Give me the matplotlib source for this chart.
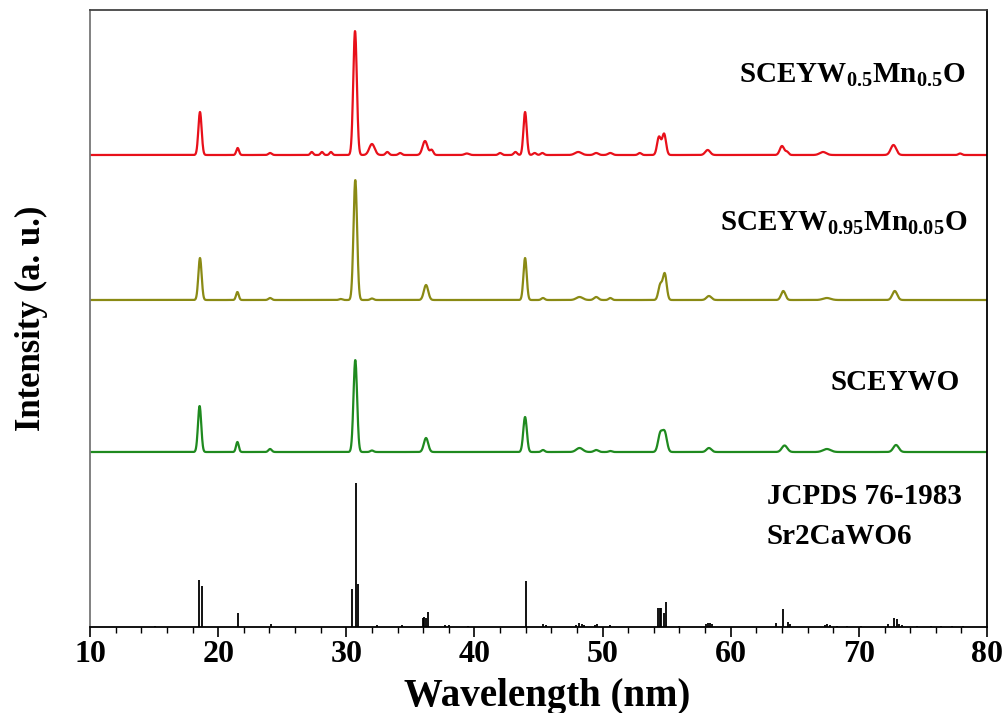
import matplotlib
matplotlib.use("Agg")
import matplotlib.pyplot as plt
import numpy as np

plt.rcParams['font.family'] = ['Liberation Serif', 'DejaVu Serif']
plt.rcParams['font.weight'] = 'bold'
plt.rcParams['mathtext.fontset'] = 'custom'
plt.rcParams['mathtext.rm'] = 'Liberation Serif:bold'
plt.rcParams['mathtext.bf'] = 'Liberation Serif:bold'

# peak lists: position (2theta), height, fwhm
# SCEYWO (green)
pos_sceywo = [18.55, 21.5, 24.05, 30.7, 32.0, 36.22, 43.95, 45.35, 48.2, 49.5, 50.6,
              54.5, 54.85, 58.3, 64.2, 67.5, 72.9]
hgt_sceywo = [46, 10, 3, 92, 1.5, 14, 35, 2, 4, 2, 1, 18, 19, 4, 6.5, 3, 7]
fw_sceywo = [0.3, 0.25, 0.3, 0.33, 0.3, 0.4, 0.33, 0.3, 0.6, 0.4, 0.3, 0.4, 0.4,
             0.45, 0.5, 0.7, 0.5]

# SCEYW0.95Mn0.05O (olive)
pos_mn005 = [18.58, 21.5, 24.05, 29.56, 30.7, 32.0, 36.22, 43.95, 45.35, 48.2, 49.5,
             50.6, 54.5, 54.85, 58.3, 64.1, 67.5, 72.8]
hgt_mn005 = [42, 8, 2, 1, 120, 1.5, 15, 42, 2, 3, 3, 2, 15, 26, 4, 9, 2, 9]
fw_mn005 = [0.3, 0.25, 0.3, 0.3, 0.33, 0.3, 0.4, 0.3, 0.3, 0.6, 0.4, 0.3, 0.35,
            0.35, 0.45, 0.4, 0.7, 0.45]

# SCEYW0.5Mn0.5O (red)
pos_mn05 = [18.58, 21.52, 24.05, 27.3, 28.1, 28.8, 30.68, 32.0, 33.2, 34.2, 36.14,
            36.66, 39.4, 42.0, 43.2, 43.95, 44.7, 45.3, 48.1, 49.5, 50.6, 52.9, 54.4,
            54.8, 58.2, 64.0, 64.4, 67.2, 72.7, 77.9]
hgt_mn05 = [43, 7, 2, 3, 3, 3, 124, 11, 3, 2, 14, 5, 1.5, 2, 3, 43, 2, 2, 3, 2, 2, 2,
            18, 21, 5, 9, 3, 3, 10, 1.5]
fw_mn05 = [0.3, 0.25, 0.3, 0.25, 0.25, 0.25, 0.33, 0.5, 0.3, 0.3, 0.45, 0.3, 0.4,
           0.3, 0.3, 0.3, 0.3, 0.3, 0.6, 0.4, 0.4, 0.3, 0.35, 0.35, 0.45, 0.4, 0.3,
           0.6, 0.5, 0.3]

# vertical offsets of the stacked patterns
offsets = [175, 327, 472]

# JCPDS 76-1983 reference lines
jcpds_pos = [15.07, 18.5, 18.71, 21.55, 24.13, 30.47, 30.73, 30.94, 32.42, 34.32,
             36.0, 36.1, 36.2, 36.35, 37.7, 38.04, 39.47, 44.0, 45.37, 45.62, 47.9,
             48.12, 48.36, 48.55, 49.41, 49.59, 50.58, 54.35, 54.45, 54.55, 54.82,
             54.95, 55.99, 58.1, 58.25, 58.4, 58.5, 63.53, 64.05, 64.5, 64.63, 67.36,
             67.54, 67.75, 68.3, 69.1, 70.2, 72.3, 72.74, 72.95, 73.16, 73.34, 74.5,
             75.6, 76.4, 77.3, 78.1]
jcpds_int = [1, 47, 41, 14, 3, 38, 144, 43, 2, 2, 9, 10, 9, 15, 2, 2, 1, 46, 3, 2, 2,
             4, 3, 2, 2, 3, 2, 19, 19, 19, 14, 25, 1, 3, 4, 4, 3, 4, 18, 5, 3, 2, 3, 2,
             1, 1, 1, 3, 9, 8, 3, 2, 1, 1, 1, 1, 1]

colors = ['#1f8a1f', '#8a8a14', '#e8101a']
labels = ['SCEYWO', r'SCEYW$_{0.95}$Mn$_{0.05}$O', r'SCEYW$_{0.5}$Mn$_{0.5}$O']


def pattern(x, pos, hgt, fw):
    y = np.zeros_like(x)
    for p, h, w in zip(pos, hgt, fw):
        s = w / 2.3548
        y += h * np.exp(-0.5 * ((x - p) / s) ** 2)
    return y


x = np.linspace(10, 80, 4000)

fig = plt.figure(figsize=(10.05, 7.13), dpi=100)
ax = fig.add_axes([0.0896, 0.1206, 0.8925, 0.8654])

series = [(pos_sceywo, hgt_sceywo, fw_sceywo),
          (pos_mn005, hgt_mn005, fw_mn005),
          (pos_mn05, hgt_mn05, fw_mn05)]
for (p, h, w), off, c in zip(series, offsets, colors):
    ax.plot(x, off + pattern(x, p, h, w), color=c, lw=1.6)

ax.vlines(jcpds_pos, 0, jcpds_int, color='black', lw=1.3)

# labels (pixel positions from the top of the figure)
ax.text(966, 713 - 75, labels[2], transform=None, fontsize=21, ha='right', va='center')
ax.text(967, 713 - 223, labels[1], transform=None, fontsize=21, ha='right', va='center')
ax.text(960, 713 - 382, labels[0], transform=None, fontsize=21, ha='right', va='center')
ax.text(767, 713 - 496, 'JCPDS 76-1983', transform=None, fontsize=21, ha='left', va='center')
ax.text(767, 713 - 537, 'Sr2CaWO6', transform=None, fontsize=21, ha='left', va='center')

ax.set_xlim(10, 80)
ax.set_ylim(0, 617)
ax.set_xticks(np.arange(10, 81, 10))
ax.set_xticks(np.arange(10, 81, 2), minor=True)
ax.set_yticks([])
ax.tick_params(axis='x', which='major', direction='out', length=7, width=1.2,
               labelsize=23, pad=2)
ax.tick_params(axis='x', which='minor', direction='out', length=4, width=1.0)
for lab in ax.get_xticklabels():
    lab.set_fontweight('bold')

ax.spines['left'].set_color('#777777')
ax.spines['top'].set_color('#444444')
for s in ax.spines.values():
    s.set_linewidth(1.3)

ax.set_xlabel('Wavelength (nm)', fontsize=28, fontweight='bold')
ax.xaxis.set_label_coords(0.51, -0.082)
ax.set_ylabel('Intensity (a. u.)', fontsize=25, fontweight='bold', labelpad=30)

fig.savefig('out.png', dpi=100)
